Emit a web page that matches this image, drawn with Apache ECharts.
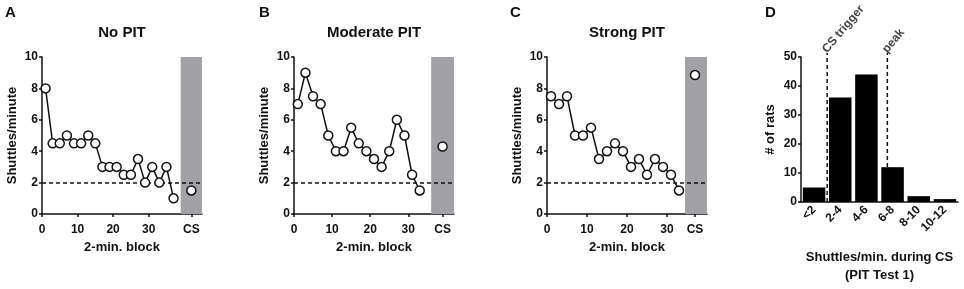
<!DOCTYPE html>
<html>
<head>
<meta charset="utf-8">
<script src="https://cdn.jsdelivr.net/npm/echarts@6/dist/echarts.min.js"></script>
<style>
  html, body { margin: 0; padding: 0; background: #fff; }
  #chart { width: 964px; height: 289px; }
</style>
</head>
<body>
<div id="chart"></div>
<script>
(function () {
  // panel A-C: blocks 1,3,5,... shuttles per minute
  var noPit = [8, 4.5, 4.5, 5, 4.5, 4.5, 5, 4.5, 3, 3, 3, 2.5, 2.5, 3.5, 2, 3, 2, 3, 1];
  var moderatePit = [7, 9, 7.5, 7, 5, 4, 4, 5.5, 4.5, 4, 3.5, 3, 4, 6, 5, 2.5, 1.5];
  var strongPit = [7.5, 7, 7.5, 5, 5, 5.5, 3.5, 4, 4.5, 4, 3, 3.5, 2.5, 3.5, 3, 2.5, 1.5];
  var csValues = [1.5, 4.3, 8.85];
  var titles = ['No PIT', 'Moderate PIT', 'Strong PIT'];
  var letters = ['A', 'B', 'C', 'D'];

  // panel D histogram
  var bins = ['<2', '2-4', '4-6', '6-8', '8-10', '10-12'];
  var ratCounts = [5, 36, 44, 12, 2, 1];
  var markerNames = ['CS trigger', 'peak'];
  var markerPos = [2, 6.6];

  var FONT = 'Liberation Sans';
  var lineSeries = [noPit, moderatePit, strongPit];
  // x range, gray CS band and CS position per panel
  var xMax = [45, 42, 40];
  var bandStart = [39, 36, 34.5];
  var csPos = [42, 39, 37];
  var gridLeft = [42, 294, 547, 801];
  var letterLeft = [5, 259, 510, 765];

  function blocks(values) {
    return values.map(function (v, i) { return [1 + 2 * i, v]; });
  }

  var axisLine = { lineStyle: { color: '#111', width: 1.5 } };
  var tickStyle = { show: true, length: 3, lineStyle: { width: 1.5, color: '#111' } };
  var labelStyle = { color: '#111', fontFamily: FONT, fontWeight: 'bold', fontSize: 12 };
  var nameStyle = { color: '#111', fontFamily: FONT, fontWeight: 'bold', fontSize: 13 };
  var circle = { color: '#fff', borderColor: '#111', borderWidth: 1.5, opacity: 1 };

  var grid = [], xAxis = [], yAxis = [], series = [], title = [];

  letters.forEach(function (l, i) {
    title.push({
      text: l, left: letterLeft[i], top: 5, padding: 0,
      textStyle: { fontFamily: FONT, fontWeight: 'bold', fontSize: 15, color: '#111' }
    });
  });

  for (var p = 0; p < 3; p++) {
    grid.push({ left: gridLeft[p], top: 57, width: 160, height: 157 });
    title.push({
      text: titles[p], left: gridLeft[p] + 80, top: 25, padding: 0, textAlign: 'center',
      textStyle: { fontFamily: FONT, fontWeight: 'bold', fontSize: 15, color: '#111' }
    });
    (function (cs) {
      xAxis.push({
        type: 'value', gridIndex: p, min: 0, max: xMax[p],
        axisLine: axisLine,
        splitLine: { show: false },
        axisTick: Object.assign({ customValues: [0, 10, 20, 30, cs] }, tickStyle),
        axisLabel: Object.assign({
          margin: 10, customValues: [0, 10, 20, 30, cs],
          formatter: function (v) { return v === cs ? 'CS' : String(v); }
        }, labelStyle),
        name: '2-min. block', nameLocation: 'middle', nameGap: 27, nameTextStyle: nameStyle
      });
    })(csPos[p]);
    yAxis.push({
      type: 'value', gridIndex: p, min: 0, max: 10, interval: 2,
      axisLine: Object.assign({ show: true }, axisLine),
      splitLine: { show: false },
      axisTick: tickStyle,
      axisLabel: Object.assign({ margin: 4 }, labelStyle),
      name: 'Shuttles/minute', nameLocation: 'middle', nameGap: 23, nameTextStyle: nameStyle
    });
    // gray CS band and dashed reference at 2 shuttles/min
    series.push({
      type: 'line', xAxisIndex: p, yAxisIndex: p, data: [], z: 1, silent: true,
      markArea: {
        silent: true, z: 1,
        itemStyle: { color: '#a2a2a6', opacity: 1 },
        data: [[{ xAxis: bandStart[p] }, { xAxis: xMax[p] }]]
      },
      markLine: {
        silent: true, z: 2, symbol: 'none', label: { show: false },
        lineStyle: { color: '#111', type: [4, 3], width: 1.5 },
        data: [{ yAxis: 2 }]
      }
    });
    series.push({
      type: 'line', xAxisIndex: p, yAxisIndex: p, z: 6,
      data: blocks(lineSeries[p]),
      symbol: 'circle', symbolSize: 9,
      itemStyle: circle,
      lineStyle: { color: '#111', width: 1.5 }
    });
    series.push({
      type: 'scatter', xAxisIndex: p, yAxisIndex: p, z: 7,
      data: [[csPos[p], csValues[p]]],
      symbolSize: 9,
      itemStyle: circle
    });
  }

  // panel D
  grid.push({ left: gridLeft[3], top: 57, width: 157, height: 157 });
  xAxis.push({
    type: 'category', gridIndex: 3, data: bins,
    axisLine: axisLine, axisTick: { show: false },
    axisLabel: Object.assign({ rotate: 45, margin: 6 }, labelStyle),
    name: 'Shuttles/min. during CS\n(PIT Test 1)', nameLocation: 'middle', nameGap: 46,
    nameTextStyle: Object.assign({ lineHeight: 18 }, nameStyle)
  });
  xAxis.push({ type: 'value', gridIndex: 3, min: 0, max: 12, show: false });
  yAxis.push({
    type: 'value', gridIndex: 3, min: 0, max: 50, interval: 10,
    axisLine: Object.assign({ show: true }, axisLine),
    splitLine: { show: false },
    axisTick: tickStyle,
    axisLabel: Object.assign({ margin: 4 }, labelStyle),
    name: '# of rats', nameLocation: 'middle', nameGap: 24, nameTextStyle: nameStyle
  });

  markerPos.forEach(function (x) {
    series.push({
      type: 'line', xAxisIndex: 4, yAxisIndex: 3, z: 1, clip: false, silent: true,
      data: [[x, 0], [x, 51.5]], symbol: 'none',
      lineStyle: { color: '#111', type: [4, 3], width: 1.5 }
    });
  });
  series.push({
    type: 'scatter', xAxisIndex: 4, yAxisIndex: 3, clip: false, silent: true,
    data: markerPos.map(function (x) { return [x, 53]; }),
    symbolSize: 1, itemStyle: { color: 'rgba(0,0,0,0)' },
    label: {
      show: true, position: 'inside', align: 'left', verticalAlign: 'middle', rotate: 50,
      offset: [-4, 0],
      formatter: function (p) { return markerNames[p.dataIndex]; },
      color: '#111', fontFamily: FONT, fontWeight: 'bold', fontSize: 12
    }
  });
  series.push({
    type: 'bar', xAxisIndex: 3, yAxisIndex: 3, z: 3,
    data: ratCounts, barCategoryGap: '14%',
    itemStyle: { color: '#000' }
  });

  var chart = echarts.init(document.getElementById('chart'), null, { renderer: 'canvas' });
  chart.setOption({
    animation: false,
    title: title,
    grid: grid,
    xAxis: xAxis,
    yAxis: yAxis,
    series: series
  });
})();
</script>
</body>
</html>
